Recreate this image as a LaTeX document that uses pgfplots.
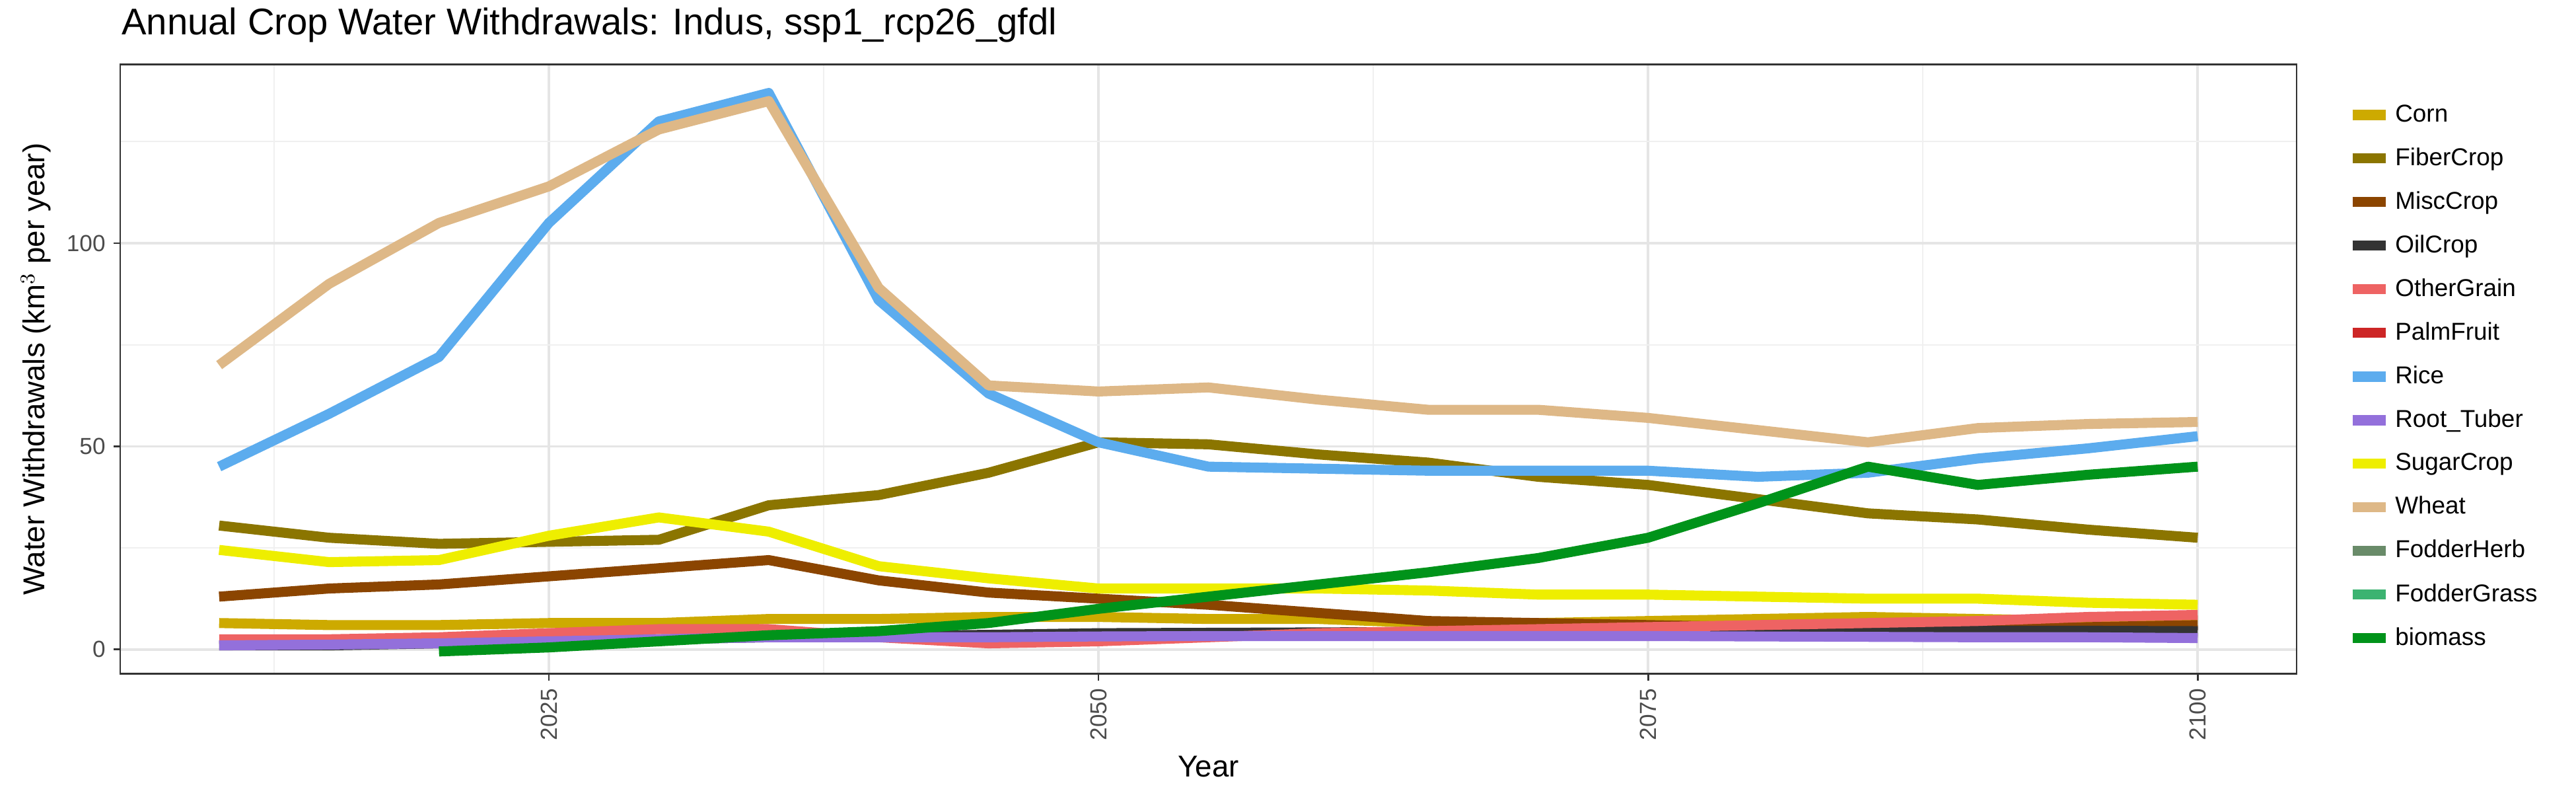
\documentclass[border=0pt]{standalone}
\usepackage{pgfplots}
\pgfplotsset{compat=1.18}
\usepackage{fontspec}
\setmainfont{Liberation Sans}
\definecolor{cCorn}{HTML}{CDAA00}
\definecolor{cFiber}{HTML}{8B7500}
\definecolor{cMisc}{HTML}{8B4500}
\definecolor{cOil}{HTML}{333333}
\definecolor{cOther}{HTML}{EE6363}
\definecolor{cPalm}{HTML}{CD2626}
\definecolor{cRice}{HTML}{5CACEE}
\definecolor{cRoot}{HTML}{9370DB}
\definecolor{cSugar}{HTML}{EEEE00}
\definecolor{cWheat}{HTML}{DEB887}
\definecolor{cHerb}{HTML}{698B69}
\definecolor{cGrass}{HTML}{3CB371}
\definecolor{cBio}{HTML}{00931A}
\begin{document}
\begin{tikzpicture}
\begin{axis}[
  scale only axis, width=32.95cm, height=9.22cm,
  xmin=2005.5, xmax=2104.5, ymin=-6, ymax=144,
  xtick={2025,2050,2075,2100}, ytick={0,50,100},
  minor xtick={2012.5,2037.5,2062.5,2087.5}, minor ytick={25,75,125},
  grid=both, major grid style={draw=black!10, line width=1pt}, minor grid style={draw=black!6, line width=0.6pt},
  axis line style={draw=black!80, line width=0.8pt},
  tick style={draw=black!80, line width=0.8pt}, major tick length=0.1cm, minor tick length=0pt,
  tick align=outside, xtick pos=bottom, ytick pos=left,
  x tick label style={rotate=90, anchor=east, font=\fontsize{10}{12}\selectfont, text=black!70},
  y tick label style={font=\fontsize{10}{12}\selectfont, text=black!70},
  /pgf/number format/assume math mode=true, /pgf/number format/1000 sep={},
  xlabel={Year}, ylabel={Water Withdrawals (km$^3$ per year)},
  label style={font=\fontsize{13}{15}\selectfont},
  title={Annual Crop Water Withdrawals: Indus, ssp1\_rcp26\_gfdl},
  title style={font=\fontsize{16}{18}\selectfont, at={(0,1)}, anchor=south west, xshift=-0.1cm},
  every axis plot/.append style={line width=4.3pt, line join=round},
  legend style={at={(1.02,0.95)}, anchor=north west, draw=none, font=\fontsize{10.5}{12}\selectfont, row sep=0.2cm, fill=none},
  legend cell align=left,
  legend image code/.code={\draw[#1, line width=4.3pt] (0cm,0cm) -- (0.5cm,0cm);},
]
\addplot[cCorn] coordinates {(2010,6.5)(2015,6)(2020,6)(2025,6.5)(2030,6.5)(2035,7.5)(2040,7.5)(2045,8)(2050,8)(2055,7.5)(2060,7.5)(2065,6.5)(2070,6.5)(2075,7)(2080,7.5)(2085,8)(2090,7.5)(2095,7)(2100,7)};
\addlegendentry{Corn}
\addplot[cFiber] coordinates {(2010,30.5)(2015,27.5)(2020,26)(2025,26.5)(2030,27)(2035,35.5)(2040,38)(2045,43.5)(2050,51)(2055,50.5)(2060,48)(2065,46)(2070,42.5)(2075,40.5)(2080,37)(2085,33.5)(2090,32)(2095,29.5)(2100,27.5)};
\addlegendentry{FiberCrop}
\addplot[cMisc] coordinates {(2010,13)(2015,15)(2020,16)(2025,18)(2030,20)(2035,22)(2040,17)(2045,14)(2050,12.5)(2055,11)(2060,9)(2065,7)(2070,6.5)(2075,6)(2080,5.5)(2085,5)(2090,5)(2095,5.5)(2100,6)};
\addlegendentry{MiscCrop}
\addplot[cOil] coordinates {(2010,1)(2015,1)(2020,1.5)(2025,2)(2030,2.5)(2035,3)(2040,3.3)(2045,3.6)(2050,4)(2055,4.1)(2060,4.2)(2065,4.3)(2070,4.4)(2075,4.4)(2080,4.5)(2085,4.6)(2090,4.6)(2095,4.6)(2100,4.5)};
\addlegendentry{OilCrop}
\addplot[cOther] coordinates {(2010,2.5)(2015,2.5)(2020,3)(2025,4)(2030,5)(2035,5)(2040,3)(2045,1.5)(2050,2)(2055,3)(2060,4)(2065,4.5)(2070,5)(2075,5.5)(2080,6)(2085,6.5)(2090,7)(2095,8)(2100,8.5)};
\addlegendentry{OtherGrain}
\addlegendimage{cPalm}
\addlegendentry{PalmFruit}
\addplot[cRice] coordinates {(2010,45)(2015,58)(2020,72)(2025,105)(2030,130)(2035,137)(2040,86)(2045,63)(2050,51)(2055,45)(2060,44.5)(2065,44)(2070,44)(2075,44)(2080,42.5)(2085,43.5)(2090,47)(2095,49.5)(2100,52.5)};
\addlegendentry{Rice}
\addplot[cRoot] coordinates {(2010,1)(2015,1.2)(2020,1.5)(2025,2)(2030,2.5)(2035,3)(2040,3)(2045,3)(2050,3.2)(2055,3.3)(2060,3.3)(2065,3.3)(2070,3.3)(2075,3.3)(2080,3.2)(2085,3.1)(2090,3)(2095,3)(2100,2.8)};
\addlegendentry{Root\_Tuber}
\addplot[cSugar] coordinates {(2010,24.5)(2015,21.5)(2020,22)(2025,28)(2030,32.5)(2035,29)(2040,20.5)(2045,17.5)(2050,15)(2055,15)(2060,15)(2065,14.5)(2070,13.5)(2075,13.5)(2080,13)(2085,12.5)(2090,12.5)(2095,11.5)(2100,11)};
\addlegendentry{SugarCrop}
\addplot[cWheat] coordinates {(2010,70)(2015,90)(2020,105)(2025,114)(2030,128)(2035,135)(2040,89)(2045,65)(2050,63.5)(2055,64.5)(2060,61.5)(2065,59)(2070,59)(2075,57)(2080,54)(2085,51)(2090,54.5)(2095,55.5)(2100,56)};
\addlegendentry{Wheat}
\addlegendimage{cHerb}
\addlegendentry{FodderHerb}
\addlegendimage{cGrass}
\addlegendentry{FodderGrass}
\addplot[cBio] coordinates {(2020,-0.5)(2025,0.5)(2030,2)(2035,3.5)(2040,4.5)(2045,6.5)(2050,10)(2055,13)(2060,16)(2065,19)(2070,22.5)(2075,27.5)(2080,36)(2085,45)(2090,40.5)(2095,43)(2100,45)};
\addlegendentry{biomass}
\node[anchor=south west, font=\fontsize{13}{15}\selectfont] at (rel axis cs:1.02,0.95) {sector};
\end{axis}
\useasboundingbox (-1.82cm,-1.83cm) rectangle (37.18cm,10.17cm);
\end{tikzpicture}
\end{document}
